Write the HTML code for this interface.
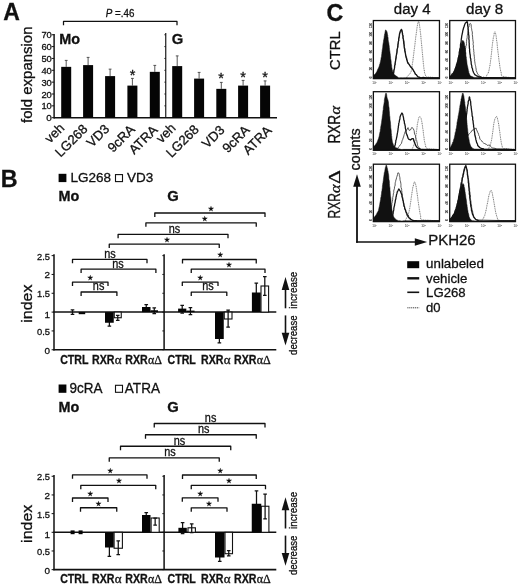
<!DOCTYPE html>
<html lang="en"><head><meta charset="utf-8"><title>Figure</title>
<style>
html,body{margin:0;padding:0;background:#fff}
svg{display:block;font-family:'Liberation Sans', sans-serif;fill:#111}
svg text{stroke:#111;stroke-width:.3px}
</style></head>
<body>
<svg width="520" height="587" viewBox="0 0 520 587">
<rect width="520" height="587" fill="#fff"/>
<text font-size="23" font-weight="bold" x="3.3" y="20.2" >A</text>
<text x="105.8" y="16.7" font-size="10.8" textLength="28.6" lengthAdjust="spacingAndGlyphs"><tspan font-style="italic">P</tspan> =.46</text>
<path d="M63.5 25.299999999999997V21.4H177V25.299999999999997" stroke="#111" stroke-width="1.25" fill="none" stroke-linejoin="round"/>
<line x1="54.1" y1="34" x2="54.1" y2="118.4" stroke="#111" stroke-width="1.45" />
<line x1="53.8" y1="117.7" x2="277" y2="117.7" stroke="#111" stroke-width="1.5" />
<line x1="51.7" y1="117.7" x2="54.1" y2="117.7" stroke="#111" stroke-width="1.0" />
<text font-size="9.9" text-anchor="end" x="51.8" y="121.3" >0</text>
<line x1="51.7" y1="105.85" x2="54.1" y2="105.85" stroke="#111" stroke-width="1.0" />
<text font-size="9.9" text-anchor="end" textLength="10.4" lengthAdjust="spacingAndGlyphs" x="51.8" y="109.44999999999999" >10</text>
<line x1="51.7" y1="94.0" x2="54.1" y2="94.0" stroke="#111" stroke-width="1.0" />
<text font-size="9.9" text-anchor="end" textLength="10.4" lengthAdjust="spacingAndGlyphs" x="51.8" y="97.6" >20</text>
<line x1="51.7" y1="82.15" x2="54.1" y2="82.15" stroke="#111" stroke-width="1.0" />
<text font-size="9.9" text-anchor="end" textLength="10.4" lengthAdjust="spacingAndGlyphs" x="51.8" y="85.75" >30</text>
<line x1="51.7" y1="70.3" x2="54.1" y2="70.3" stroke="#111" stroke-width="1.0" />
<text font-size="9.9" text-anchor="end" textLength="10.4" lengthAdjust="spacingAndGlyphs" x="51.8" y="73.89999999999999" >40</text>
<line x1="51.7" y1="58.45" x2="54.1" y2="58.45" stroke="#111" stroke-width="1.0" />
<text font-size="9.9" text-anchor="end" textLength="10.4" lengthAdjust="spacingAndGlyphs" x="51.8" y="62.050000000000004" >50</text>
<line x1="51.7" y1="46.599999999999994" x2="54.1" y2="46.599999999999994" stroke="#111" stroke-width="1.0" />
<text font-size="9.9" text-anchor="end" textLength="10.4" lengthAdjust="spacingAndGlyphs" x="51.8" y="50.199999999999996" >60</text>
<line x1="51.7" y1="34.75" x2="54.1" y2="34.75" stroke="#111" stroke-width="1.0" />
<text font-size="9.9" text-anchor="end" textLength="10.4" lengthAdjust="spacingAndGlyphs" x="51.8" y="38.35" >70</text>
<line x1="165.75" y1="33" x2="165.75" y2="117.7" stroke="#111" stroke-width="1.15" />
<line x1="164.3" y1="105.85" x2="165.75" y2="105.85" stroke="#111" stroke-width="0.8" />
<line x1="164.3" y1="94.0" x2="165.75" y2="94.0" stroke="#111" stroke-width="0.8" />
<line x1="164.3" y1="82.15" x2="165.75" y2="82.15" stroke="#111" stroke-width="0.8" />
<line x1="164.3" y1="70.3" x2="165.75" y2="70.3" stroke="#111" stroke-width="0.8" />
<line x1="164.3" y1="58.45" x2="165.75" y2="58.45" stroke="#111" stroke-width="0.8" />
<line x1="164.3" y1="46.599999999999994" x2="165.75" y2="46.599999999999994" stroke="#111" stroke-width="0.8" />
<line x1="164.3" y1="34.75" x2="165.75" y2="34.75" stroke="#111" stroke-width="0.8" />
<text font-size="15" textLength="96.5" lengthAdjust="spacingAndGlyphs" transform="translate(32,123) rotate(-90)" >fold expansion</text>
<text font-size="14.8" font-weight="bold" textLength="20.8" lengthAdjust="spacingAndGlyphs" x="59.2" y="44.4" >Mo</text>
<text font-size="14.8" font-weight="bold" x="171.8" y="44.4" >G</text>
<path d="M66.20 60.40V66.85M64.80 60.40H67.60" stroke="#444" stroke-width="0.9" fill="none"/>
<rect x="61.20" y="66.85" width="10.00" height="50.85" fill="#050505"/>
<path d="M88.10 57.40V65.10M86.70 57.40H89.50" stroke="#444" stroke-width="0.9" fill="none"/>
<rect x="83.10" y="65.10" width="10.00" height="52.60" fill="#050505"/>
<path d="M110.10 69.15V76.10M108.70 69.15H111.50" stroke="#444" stroke-width="0.9" fill="none"/>
<rect x="105.10" y="76.10" width="10.00" height="41.60" fill="#050505"/>
<path d="M132.40 78.40V85.60M131.00 78.40H133.80" stroke="#444" stroke-width="0.9" fill="none"/>
<rect x="127.40" y="85.60" width="10.00" height="32.10" fill="#050505"/>
<path d="M154.80 65.40V71.85M153.40 65.40H156.20" stroke="#444" stroke-width="0.9" fill="none"/>
<rect x="149.80" y="71.85" width="10.00" height="45.85" fill="#050505"/>
<path d="M177.20 55.90V66.10M175.80 55.90H178.60" stroke="#444" stroke-width="0.9" fill="none"/>
<rect x="172.20" y="66.10" width="10.00" height="51.60" fill="#050505"/>
<path d="M199.10 72.40V78.60M197.70 72.40H200.50" stroke="#444" stroke-width="0.9" fill="none"/>
<rect x="194.10" y="78.60" width="10.00" height="39.10" fill="#050505"/>
<path d="M221.30 82.40V88.85M219.90 82.40H222.70" stroke="#444" stroke-width="0.9" fill="none"/>
<rect x="216.30" y="88.85" width="10.00" height="28.85" fill="#050505"/>
<path d="M243.10 80.40V85.60M241.70 80.40H244.50" stroke="#444" stroke-width="0.9" fill="none"/>
<rect x="238.10" y="85.60" width="10.00" height="32.10" fill="#050505"/>
<path d="M265.10 80.90V85.60M263.70 80.90H266.50" stroke="#444" stroke-width="0.9" fill="none"/>
<rect x="260.10" y="85.60" width="10.00" height="32.10" fill="#050505"/>
<text font-size="14.5" text-anchor="middle" x="132.5" y="79.7" >*</text>
<text font-size="14.5" text-anchor="middle" x="221" y="83.2" >*</text>
<text font-size="14.5" text-anchor="middle" x="243" y="81.7" >*</text>
<text font-size="14.5" text-anchor="middle" x="265" y="82.2" >*</text>
<text font-size="13.2" text-anchor="end" transform="translate(65.10000000000001,128.70000000000002) rotate(-45)" >veh</text>
<text font-size="13.2" text-anchor="end" transform="translate(88.5,129.8) rotate(-45)" >LG268</text>
<text font-size="13.2" text-anchor="end" transform="translate(110.2,129.8) rotate(-45)" >VD3</text>
<text font-size="13.2" text-anchor="end" transform="translate(135.8,130.3) rotate(-45)" >9cRA</text>
<text font-size="13.2" text-anchor="end" transform="translate(158.4,130.8) rotate(-45)" >ATRA</text>
<text font-size="13.2" text-anchor="end" transform="translate(176.5,128.70000000000002) rotate(-45)" >veh</text>
<text font-size="13.2" text-anchor="end" transform="translate(199.6,130.3) rotate(-45)" >LG268</text>
<text font-size="13.2" text-anchor="end" transform="translate(225.50000000000003,130.8) rotate(-45)" >VD3</text>
<text font-size="13.2" text-anchor="end" transform="translate(250.5,130.8) rotate(-45)" >9cRA</text>
<text font-size="13.2" text-anchor="end" transform="translate(272.5,131.3) rotate(-45)" >ATRA</text>
<text font-size="23.3" font-weight="bold" x="0.8" y="186.6" >B</text>
<rect x="58.60" y="173.80" width="7.80" height="8.30" fill="#050505"/>
<text font-size="13.5" x="70.5" y="182.2" >LG268</text>
<rect x="115.50" y="174.60" width="7.00" height="7.00" fill="#fff" stroke="#111" stroke-width="1.1"/>
<text font-size="13.5" x="126.9" y="182.2" >VD3</text>
<text font-size="14.8" font-weight="bold" textLength="20.8" lengthAdjust="spacingAndGlyphs" x="58.6" y="201.4" >Mo</text>
<text font-size="14.8" font-weight="bold" x="167.3" y="201.4" >G</text>
<line x1="54.0" y1="254.32500000000002" x2="54.0" y2="350.45" stroke="#111" stroke-width="1.5" />
<line x1="53.3" y1="349.75" x2="276.3" y2="349.75" stroke="#111" stroke-width="1.6" />
<line x1="53.3" y1="312.1" x2="276.3" y2="312.1" stroke="#111" stroke-width="1.5" />
<line x1="51.6" y1="349.75" x2="54.0" y2="349.75" stroke="#111" stroke-width="1.0" />
<text font-size="9.9" text-anchor="end" x="50.0" y="353.75" >0</text>
<line x1="51.6" y1="330.925" x2="54.0" y2="330.925" stroke="#111" stroke-width="1.0" />
<text font-size="9.9" text-anchor="end" textLength="13.0" lengthAdjust="spacingAndGlyphs" x="50.0" y="334.925" >0.5</text>
<line x1="51.6" y1="312.1" x2="54.0" y2="312.1" stroke="#111" stroke-width="1.0" />
<text font-size="9.9" text-anchor="end" x="50.0" y="317.70000000000005" >1</text>
<line x1="51.6" y1="293.275" x2="54.0" y2="293.275" stroke="#111" stroke-width="1.0" />
<text font-size="9.9" text-anchor="end" textLength="13.0" lengthAdjust="spacingAndGlyphs" x="50.0" y="297.275" >1.5</text>
<line x1="51.6" y1="274.45" x2="54.0" y2="274.45" stroke="#111" stroke-width="1.0" />
<text font-size="9.9" text-anchor="end" x="50.0" y="278.45" >2</text>
<line x1="51.6" y1="255.625" x2="54.0" y2="255.625" stroke="#111" stroke-width="1.0" />
<text font-size="9.9" text-anchor="end" textLength="13.0" lengthAdjust="spacingAndGlyphs" x="50.0" y="259.625" >2.5</text>
<line x1="164.1" y1="254.32500000000002" x2="164.1" y2="349.75" stroke="#111" stroke-width="1.5" />
<line x1="162.3" y1="349.75" x2="164.1" y2="349.75" stroke="#111" stroke-width="0.9" />
<line x1="162.3" y1="330.925" x2="164.1" y2="330.925" stroke="#111" stroke-width="0.9" />
<line x1="162.3" y1="312.1" x2="164.1" y2="312.1" stroke="#111" stroke-width="0.9" />
<line x1="162.3" y1="293.275" x2="164.1" y2="293.275" stroke="#111" stroke-width="0.9" />
<line x1="162.3" y1="274.45" x2="164.1" y2="274.45" stroke="#111" stroke-width="0.9" />
<line x1="162.3" y1="255.625" x2="164.1" y2="255.625" stroke="#111" stroke-width="0.9" />
<text font-size="15.2" textLength="38.2" lengthAdjust="spacingAndGlyphs" transform="translate(32,322.70000000000005) rotate(-90)" >index</text>
<text font-size="12" font-weight="bold" textLength="28.3" lengthAdjust="spacingAndGlyphs" x="60.2" y="363.55" >CTRL</text>
<text font-size="12" font-weight="bold" textLength="22.5" lengthAdjust="spacingAndGlyphs" x="92" y="363.55" >RXR</text>
<text font-size="12" font-weight="bold" textLength="28.3" lengthAdjust="spacingAndGlyphs" x="167.5" y="363.55" >CTRL</text>
<text font-size="12" font-weight="bold" textLength="22.5" lengthAdjust="spacingAndGlyphs" x="201" y="363.55" >RXR</text>
<text font-size="12" textLength="6.8" lengthAdjust="spacingAndGlyphs" x="114.7" y="363.55" font-family="Liberation Serif, serif">α</text>
<text font-size="12" textLength="6.8" lengthAdjust="spacingAndGlyphs" x="223.7" y="363.55" font-family="Liberation Serif, serif">α</text>
<text font-size="12" font-weight="bold" textLength="22.5" lengthAdjust="spacingAndGlyphs" x="125.2" y="363.55" >RXR</text>
<text font-size="12" textLength="14" lengthAdjust="spacingAndGlyphs" x="147.9" y="363.55" font-family="Liberation Serif, serif">αΔ</text>
<text font-size="12" font-weight="bold" textLength="22.5" lengthAdjust="spacingAndGlyphs" x="234" y="363.55" >RXR</text>
<text font-size="12" textLength="14" lengthAdjust="spacingAndGlyphs" x="256.7" y="363.55" font-family="Liberation Serif, serif">αΔ</text>
<line x1="285.5" y1="308.3" x2="285.5" y2="288.1" stroke="#111" stroke-width="1.6" />
<path d="M285.5 277.1L289.3 290.1H281.7Z" fill="#111"/>
<line x1="285.5" y1="315.40000000000003" x2="285.5" y2="335.1" stroke="#111" stroke-width="1.6" />
<path d="M285.5 345.5L289.3 332.70000000000005H281.7Z" fill="#111"/>
<text font-size="10.4" textLength="37" lengthAdjust="spacingAndGlyphs" transform="translate(297.4,308.70000000000005) rotate(-90)" >increase</text>
<text font-size="10.4" textLength="39.5" lengthAdjust="spacingAndGlyphs" transform="translate(297.4,354.90000000000003) rotate(-90)" >decrease</text>
<path d="M72.50 309.90V314.30M70.70 309.90H74.30M70.70 314.30H74.30" stroke="#111" stroke-width="1.25" fill="none"/>
<rect x="70.50" y="312.00" width="4.00" height="0.10" fill="#050505"/>
<rect x="78.70" y="312.10" width="6.50" height="2.10" fill="#050505"/>
<path d="M109.38 319.00V326.00M107.58 319.00H111.17M107.58 326.00H111.17" stroke="#111" stroke-width="1.25" fill="none"/>
<rect x="105.00" y="312.10" width="8.75" height="10.65" fill="#050505"/>
<rect x="114.25" y="312.10" width="7.00" height="5.65" fill="#fff" stroke="#111" stroke-width="1.1"/>
<path d="M117.75 315.25V320.25M115.95 315.25H119.55M115.95 320.25H119.55" stroke="#111" stroke-width="1.25" fill="none"/>
<path d="M146.25 304.50V309.00M144.45 304.50H148.05M144.45 309.00H148.05" stroke="#111" stroke-width="1.25" fill="none"/>
<rect x="142.00" y="307.00" width="8.50" height="5.10" fill="#050505"/>
<path d="M154.25 307.75V313.50M152.45 307.75H156.05M152.45 313.50H156.05" stroke="#111" stroke-width="1.25" fill="none"/>
<rect x="150.50" y="310.25" width="7.50" height="1.85" fill="#050505"/>
<path d="M182.20 305.25V313.00M180.40 305.25H184.00M180.40 313.00H184.00" stroke="#111" stroke-width="1.25" fill="none"/>
<rect x="178.10" y="308.60" width="8.20" height="3.50" fill="#050505"/>
<path d="M190.43 307.50V314.50M188.62 307.50H192.23M188.62 314.50H192.23" stroke="#111" stroke-width="1.25" fill="none"/>
<rect x="186.30" y="310.60" width="8.25" height="1.50" fill="#050505"/>
<path d="M219.38 336.00V342.75M217.57 336.00H221.18M217.57 342.75H221.18" stroke="#111" stroke-width="1.25" fill="none"/>
<rect x="215.00" y="312.10" width="8.75" height="26.90" fill="#050505"/>
<rect x="224.25" y="312.10" width="7.75" height="6.90" fill="#fff" stroke="#111" stroke-width="1.1"/>
<path d="M228.12 310.00V327.00M226.32 310.00H229.93M226.32 327.00H229.93" stroke="#111" stroke-width="1.25" fill="none"/>
<path d="M256.30 283.00V300.00M254.50 283.00H258.10M254.50 300.00H258.10" stroke="#111" stroke-width="1.25" fill="none"/>
<rect x="251.90" y="292.50" width="8.80" height="19.60" fill="#050505"/>
<rect x="261.00" y="286.00" width="7.60" height="26.10" fill="#fff" stroke="#111" stroke-width="1.1"/>
<path d="M264.80 276.60V295.40M263.00 276.60H266.60M263.00 295.40H266.60" stroke="#111" stroke-width="1.25" fill="none"/>
<path d="M154.8 216.9V213H265V216.9" stroke="#111" stroke-width="1.3" fill="none" stroke-linejoin="round"/>
<text font-size="6.7" text-anchor="middle" x="211" y="210.612" font-family="DejaVu Sans, sans-serif">★</text>
<path d="M145.9 226.8V222.9H256.25V226.8" stroke="#111" stroke-width="1.3" fill="none" stroke-linejoin="round"/>
<text font-size="6.7" text-anchor="middle" x="204.75" y="220.512" font-family="DejaVu Sans, sans-serif">★</text>
<path d="M118.1 238.25V234.35H228V238.25" stroke="#111" stroke-width="1.3" fill="none" stroke-linejoin="round"/>
<text font-size="12.1" text-anchor="middle" textLength="11.5" lengthAdjust="spacingAndGlyphs" x="174.4" y="232.5" >ns</text>
<path d="M109.25 248.1V244.2H219.25V248.1" stroke="#111" stroke-width="1.3" fill="none" stroke-linejoin="round"/>
<text font-size="6.7" text-anchor="middle" x="167" y="241.912" font-family="DejaVu Sans, sans-serif">★</text>
<path d="M72.5 263.34999999999997V259.45H147V263.34999999999997" stroke="#111" stroke-width="1.3" fill="none" stroke-linejoin="round"/>
<text font-size="12.1" text-anchor="middle" textLength="11.5" lengthAdjust="spacingAndGlyphs" x="110" y="257.7" >ns</text>
<path d="M81.1 273.04999999999995V269.15H155.9V273.04999999999995" stroke="#111" stroke-width="1.3" fill="none" stroke-linejoin="round"/>
<text font-size="12.1" text-anchor="middle" textLength="11.5" lengthAdjust="spacingAndGlyphs" x="118" y="267.6" >ns</text>
<path d="M72.5 286.0V282.1H108V286.0" stroke="#111" stroke-width="1.3" fill="none" stroke-linejoin="round"/>
<text font-size="6.7" text-anchor="middle" x="90.25" y="279.712" font-family="DejaVu Sans, sans-serif">★</text>
<path d="M81.1 295.9V292H116.9V295.9" stroke="#111" stroke-width="1.3" fill="none" stroke-linejoin="round"/>
<text font-size="12.1" text-anchor="middle" textLength="11.5" lengthAdjust="spacingAndGlyphs" x="98.6" y="290.1" >ns</text>
<path d="M182.5 263.4V259.5H256.25V263.4" stroke="#111" stroke-width="1.3" fill="none" stroke-linejoin="round"/>
<text font-size="6.7" text-anchor="middle" x="220.25" y="257.312" font-family="DejaVu Sans, sans-serif">★</text>
<path d="M191.25 273.0V269.1H265V273.0" stroke="#111" stroke-width="1.3" fill="none" stroke-linejoin="round"/>
<text font-size="6.7" text-anchor="middle" x="228.9" y="267.012" font-family="DejaVu Sans, sans-serif">★</text>
<path d="M182.3 286.0V282.1H218V286.0" stroke="#111" stroke-width="1.3" fill="none" stroke-linejoin="round"/>
<text font-size="6.7" text-anchor="middle" x="200.25" y="279.712" font-family="DejaVu Sans, sans-serif">★</text>
<path d="M191.25 296.09999999999997V292.2H226.8V296.09999999999997" stroke="#111" stroke-width="1.3" fill="none" stroke-linejoin="round"/>
<text font-size="12.1" text-anchor="middle" textLength="11.5" lengthAdjust="spacingAndGlyphs" x="208" y="290.3" >ns</text>
<rect x="58.60" y="384.50" width="7.80" height="8.30" fill="#050505"/>
<text font-size="14.3" textLength="33" lengthAdjust="spacingAndGlyphs" x="69.4" y="392.9" >9cRA</text>
<rect x="115.50" y="385.30" width="7.00" height="7.00" fill="#fff" stroke="#111" stroke-width="1.1"/>
<text font-size="14.3" textLength="35.2" lengthAdjust="spacingAndGlyphs" x="124.8" y="392.9" >ATRA</text>
<text font-size="14.8" font-weight="bold" textLength="20.8" lengthAdjust="spacingAndGlyphs" x="58.6" y="412.1" >Mo</text>
<text font-size="14.8" font-weight="bold" x="167.3" y="412.1" >G</text>
<line x1="54.0" y1="474.97499999999997" x2="54.0" y2="570.35" stroke="#111" stroke-width="1.5" />
<line x1="53.3" y1="569.65" x2="276.3" y2="569.65" stroke="#111" stroke-width="1.6" />
<line x1="53.3" y1="532.3" x2="276.3" y2="532.3" stroke="#111" stroke-width="1.5" />
<line x1="51.6" y1="569.65" x2="54.0" y2="569.65" stroke="#111" stroke-width="1.0" />
<text font-size="9.9" text-anchor="end" x="50.0" y="573.65" >0</text>
<line x1="51.6" y1="550.975" x2="54.0" y2="550.975" stroke="#111" stroke-width="1.0" />
<text font-size="9.9" text-anchor="end" textLength="13.0" lengthAdjust="spacingAndGlyphs" x="50.0" y="554.975" >0.5</text>
<line x1="51.6" y1="532.3" x2="54.0" y2="532.3" stroke="#111" stroke-width="1.0" />
<text font-size="9.9" text-anchor="end" x="50.0" y="537.9" >1</text>
<line x1="51.6" y1="513.625" x2="54.0" y2="513.625" stroke="#111" stroke-width="1.0" />
<text font-size="9.9" text-anchor="end" textLength="13.0" lengthAdjust="spacingAndGlyphs" x="50.0" y="517.625" >1.5</text>
<line x1="51.6" y1="494.95" x2="54.0" y2="494.95" stroke="#111" stroke-width="1.0" />
<text font-size="9.9" text-anchor="end" x="50.0" y="498.95" >2</text>
<line x1="51.6" y1="476.275" x2="54.0" y2="476.275" stroke="#111" stroke-width="1.0" />
<text font-size="9.9" text-anchor="end" textLength="13.0" lengthAdjust="spacingAndGlyphs" x="50.0" y="480.275" >2.5</text>
<line x1="164.1" y1="474.97499999999997" x2="164.1" y2="569.65" stroke="#111" stroke-width="1.5" />
<line x1="162.3" y1="569.65" x2="164.1" y2="569.65" stroke="#111" stroke-width="0.9" />
<line x1="162.3" y1="550.975" x2="164.1" y2="550.975" stroke="#111" stroke-width="0.9" />
<line x1="162.3" y1="532.3" x2="164.1" y2="532.3" stroke="#111" stroke-width="0.9" />
<line x1="162.3" y1="513.625" x2="164.1" y2="513.625" stroke="#111" stroke-width="0.9" />
<line x1="162.3" y1="494.95" x2="164.1" y2="494.95" stroke="#111" stroke-width="0.9" />
<line x1="162.3" y1="476.275" x2="164.1" y2="476.275" stroke="#111" stroke-width="0.9" />
<text font-size="15.2" textLength="38.2" lengthAdjust="spacingAndGlyphs" transform="translate(32,542.9) rotate(-90)" >index</text>
<text font-size="12" font-weight="bold" textLength="28.3" lengthAdjust="spacingAndGlyphs" x="60.2" y="583.15" >CTRL</text>
<text font-size="12" font-weight="bold" textLength="22.5" lengthAdjust="spacingAndGlyphs" x="92" y="583.15" >RXR</text>
<text font-size="12" font-weight="bold" textLength="28.3" lengthAdjust="spacingAndGlyphs" x="167.5" y="583.15" >CTRL</text>
<text font-size="12" font-weight="bold" textLength="22.5" lengthAdjust="spacingAndGlyphs" x="201" y="583.15" >RXR</text>
<text font-size="12" textLength="6.8" lengthAdjust="spacingAndGlyphs" x="114.7" y="583.15" font-family="Liberation Serif, serif">α</text>
<text font-size="12" textLength="6.8" lengthAdjust="spacingAndGlyphs" x="223.7" y="583.15" font-family="Liberation Serif, serif">α</text>
<text font-size="12" font-weight="bold" textLength="22.5" lengthAdjust="spacingAndGlyphs" x="125.2" y="583.15" >RXR</text>
<text font-size="12" textLength="14" lengthAdjust="spacingAndGlyphs" x="147.9" y="583.15" font-family="Liberation Serif, serif">αΔ</text>
<text font-size="12" font-weight="bold" textLength="22.5" lengthAdjust="spacingAndGlyphs" x="234" y="583.15" >RXR</text>
<text font-size="12" textLength="14" lengthAdjust="spacingAndGlyphs" x="256.7" y="583.15" font-family="Liberation Serif, serif">αΔ</text>
<line x1="285.5" y1="528.5" x2="285.5" y2="508.29999999999995" stroke="#111" stroke-width="1.6" />
<path d="M285.5 497.29999999999995L289.3 510.29999999999995H281.7Z" fill="#111"/>
<line x1="285.5" y1="535.5999999999999" x2="285.5" y2="555.3" stroke="#111" stroke-width="1.6" />
<path d="M285.5 565.6999999999999L289.3 552.9H281.7Z" fill="#111"/>
<text font-size="10.4" textLength="37" lengthAdjust="spacingAndGlyphs" transform="translate(297.4,528.9) rotate(-90)" >increase</text>
<text font-size="10.4" textLength="39.5" lengthAdjust="spacingAndGlyphs" transform="translate(297.4,575.0999999999999) rotate(-90)" >decrease</text>
<rect x="70.60" y="530.40" width="4.00" height="3.80" fill="#050505"/>
<rect x="78.60" y="530.40" width="4.00" height="3.80" fill="#050505"/>
<path d="M109.38 540.00V556.25M107.58 540.00H111.17M107.58 556.25H111.17" stroke="#111" stroke-width="1.25" fill="none"/>
<rect x="105.00" y="532.30" width="8.75" height="15.20" fill="#050505"/>
<rect x="114.10" y="532.30" width="8.30" height="15.95" fill="#fff" stroke="#111" stroke-width="1.1"/>
<path d="M118.25 540.75V554.50M116.45 540.75H120.05M116.45 554.50H120.05" stroke="#111" stroke-width="1.25" fill="none"/>
<path d="M146.25 512.50V517.00M144.45 512.50H148.05M144.45 517.00H148.05" stroke="#111" stroke-width="1.25" fill="none"/>
<rect x="142.00" y="515.00" width="8.50" height="17.30" fill="#050505"/>
<rect x="151.10" y="518.00" width="8.10" height="14.30" fill="#fff" stroke="#111" stroke-width="1.1"/>
<path d="M155.15 518.00V525.00M153.35 518.00H156.95M153.35 525.00H156.95" stroke="#111" stroke-width="1.25" fill="none"/>
<path d="M182.60 522.50V533.50M180.80 522.50H184.40M180.80 533.50H184.40" stroke="#111" stroke-width="1.25" fill="none"/>
<rect x="178.40" y="527.80" width="8.40" height="4.50" fill="#050505"/>
<rect x="188.00" y="527.80" width="7.40" height="4.50" fill="#fff" stroke="#111" stroke-width="1.1"/>
<path d="M191.70 523.75V532.50M189.90 523.75H193.50M189.90 532.50H193.50" stroke="#111" stroke-width="1.25" fill="none"/>
<path d="M219.75 554.00V561.25M217.95 554.00H221.55M217.95 561.25H221.55" stroke="#111" stroke-width="1.25" fill="none"/>
<rect x="215.00" y="532.30" width="9.50" height="25.20" fill="#050505"/>
<rect x="225.00" y="532.30" width="7.50" height="21.40" fill="#fff" stroke="#111" stroke-width="1.1"/>
<path d="M228.75 550.50V555.80M226.95 550.50H230.55M226.95 555.80H230.55" stroke="#111" stroke-width="1.25" fill="none"/>
<path d="M256.50 490.75V510.00M254.70 490.75H258.30M254.70 510.00H258.30" stroke="#111" stroke-width="1.25" fill="none"/>
<rect x="251.75" y="503.75" width="9.50" height="28.55" fill="#050505"/>
<rect x="261.30" y="506.25" width="7.60" height="26.05" fill="#fff" stroke="#111" stroke-width="1.1"/>
<path d="M265.10 494.00V518.80M263.30 494.00H266.90M263.30 518.80H266.90" stroke="#111" stroke-width="1.25" fill="none"/>
<path d="M154.25 427.4V423.5H265V427.4" stroke="#111" stroke-width="1.3" fill="none" stroke-linejoin="round"/>
<text font-size="12.1" text-anchor="middle" textLength="11.5" lengthAdjust="spacingAndGlyphs" x="210.6" y="422.0" >ns</text>
<path d="M145.5 438.65V434.75H256.25V438.65" stroke="#111" stroke-width="1.3" fill="none" stroke-linejoin="round"/>
<text font-size="12.1" text-anchor="middle" textLength="11.5" lengthAdjust="spacingAndGlyphs" x="203.75" y="433.2" >ns</text>
<path d="M120.5 450.15V446.25H230.75V450.15" stroke="#111" stroke-width="1.3" fill="none" stroke-linejoin="round"/>
<text font-size="12.1" text-anchor="middle" textLength="11.5" lengthAdjust="spacingAndGlyphs" x="179.4" y="444.7" >ns</text>
<path d="M109.25 461.7V457.8H219.25V461.7" stroke="#111" stroke-width="1.3" fill="none" stroke-linejoin="round"/>
<text font-size="12.1" text-anchor="middle" textLength="11.5" lengthAdjust="spacingAndGlyphs" x="170" y="456.1" >ns</text>
<path d="M72.5 478.79999999999995V474.9H147V478.79999999999995" stroke="#111" stroke-width="1.3" fill="none" stroke-linejoin="round"/>
<text font-size="6.7" text-anchor="middle" x="110.25" y="472.712" font-family="DejaVu Sans, sans-serif">★</text>
<path d="M80.8 489.2V485.3H155.75V489.2" stroke="#111" stroke-width="1.3" fill="none" stroke-linejoin="round"/>
<text font-size="6.7" text-anchor="middle" x="119" y="483.012" font-family="DejaVu Sans, sans-serif">★</text>
<path d="M72.5 501.9V498H108V501.9" stroke="#111" stroke-width="1.3" fill="none" stroke-linejoin="round"/>
<text font-size="6.7" text-anchor="middle" x="90.25" y="495.712" font-family="DejaVu Sans, sans-serif">★</text>
<path d="M80.5 511.65V507.75H116.75V511.65" stroke="#111" stroke-width="1.3" fill="none" stroke-linejoin="round"/>
<text font-size="6.7" text-anchor="middle" x="98.5" y="505.712" font-family="DejaVu Sans, sans-serif">★</text>
<path d="M182.5 478.9V475.0H256.25V478.9" stroke="#111" stroke-width="1.3" fill="none" stroke-linejoin="round"/>
<text font-size="6.7" text-anchor="middle" x="220.25" y="473.012" font-family="DejaVu Sans, sans-serif">★</text>
<path d="M191.25 489.29999999999995V485.4H265.5V489.29999999999995" stroke="#111" stroke-width="1.3" fill="none" stroke-linejoin="round"/>
<text font-size="6.7" text-anchor="middle" x="229" y="483.412" font-family="DejaVu Sans, sans-serif">★</text>
<path d="M182.3 501.7V497.8H218V501.7" stroke="#111" stroke-width="1.3" fill="none" stroke-linejoin="round"/>
<text font-size="6.7" text-anchor="middle" x="200.25" y="495.712" font-family="DejaVu Sans, sans-serif">★</text>
<path d="M191.25 511.7V507.8H227V511.7" stroke="#111" stroke-width="1.3" fill="none" stroke-linejoin="round"/>
<text font-size="6.7" text-anchor="middle" x="209" y="505.712" font-family="DejaVu Sans, sans-serif">★</text>
<text font-size="23.3" font-weight="bold" x="326.6" y="20.5" >C</text>
<text font-size="15.1" textLength="36.8" lengthAdjust="spacingAndGlyphs" x="393.8" y="13.9" >day 4</text>
<text font-size="15.1" textLength="37.2" lengthAdjust="spacingAndGlyphs" x="466" y="13.9" >day 8</text>
<text font-size="14.6" textLength="38.5" lengthAdjust="spacingAndGlyphs" transform="translate(340,69.9) rotate(-90)" >CTRL</text>
<text font-size="16" textLength="28.6" lengthAdjust="spacingAndGlyphs" transform="translate(340.2,143.6) rotate(-90)" >RXR</text>
<text font-size="15.5" font-style="italic" textLength="8.6" lengthAdjust="spacingAndGlyphs" transform="translate(340.2,114.4) rotate(-90)" font-family="Liberation Serif, serif">α</text>
<text font-size="16" textLength="25.4" lengthAdjust="spacingAndGlyphs" transform="translate(340.2,218.5) rotate(-90)" >RXR</text>
<text font-size="15.5" font-style="italic" textLength="8.6" lengthAdjust="spacingAndGlyphs" transform="translate(340.2,192.9) rotate(-90)" font-family="Liberation Serif, serif">α</text>
<text font-size="16.3" textLength="14" lengthAdjust="spacingAndGlyphs" transform="translate(340.2,184.0) rotate(-90)" font-family="Liberation Serif, serif">Δ</text>
<text font-size="14" textLength="42" lengthAdjust="spacingAndGlyphs" transform="translate(360.4,170.4) rotate(-90)" >counts</text>
<line x1="357" y1="242.8" x2="357" y2="185" stroke="#111" stroke-width="1.8" />
<path d="M357 174.3L360.8 186.8H353.2Z" fill="#111"/>
<line x1="356.1" y1="242.0" x2="416" y2="242.0" stroke="#111" stroke-width="1.7" />
<path d="M427.2 242.0L414.8 245.8V238.2Z" fill="#111"/>
<text font-size="15" textLength="47.4" lengthAdjust="spacingAndGlyphs" x="428.2" y="244.5" >PKH26</text>
<rect x="407.20" y="261.20" width="12.00" height="7.00" fill="#050505"/>
<text font-size="13.6" textLength="57.8" lengthAdjust="spacingAndGlyphs" x="426.1" y="268.2" >unlabeled</text>
<line x1="407.3" y1="278.3" x2="419.2" y2="278.3" stroke="#111" stroke-width="2.4" />
<text font-size="13.6" textLength="41.3" lengthAdjust="spacingAndGlyphs" x="426.1" y="282.6" >vehicle</text>
<line x1="407.3" y1="292.3" x2="419.2" y2="292.3" stroke="#111" stroke-width="1.6" />
<text font-size="13.6" textLength="39.5" lengthAdjust="spacingAndGlyphs" x="426.1" y="297" >LG268</text>
<line x1="407.3" y1="307.8" x2="419.2" y2="307.8" stroke="#444" stroke-width="1.0" stroke-dasharray="1.2 0.7"/>
<text font-size="13.6" textLength="14.5" lengthAdjust="spacingAndGlyphs" x="426.1" y="312" >d0</text>
<path d="M406.83 77.90L406.77 76.94L407.48 76.25L408.49 75.16L409.24 74.55L410.18 73.33L411.11 71.56L411.29 70.70L411.46 69.57L411.66 68.74L411.85 67.47L412.09 65.90L412.32 64.75L412.43 63.11L412.76 61.85L412.87 61.03L413.00 60.02L413.08 58.90L413.23 57.85L413.46 56.39L413.45 55.29L413.75 54.22L413.82 53.00L413.94 51.87L414.05 50.79L414.23 49.77L414.39 48.65L414.57 47.55L414.67 46.07L414.85 45.22L415.01 43.89L415.11 42.58L415.28 41.56L415.31 40.20L415.57 39.44L415.55 38.27L415.75 36.95L415.86 36.17L416.10 34.91L416.24 33.53L416.43 32.32L416.64 31.33L416.73 30.14L416.85 28.65L417.07 27.58L417.15 26.75L417.39 25.76L417.58 24.35L417.93 22.91L418.33 21.65L418.53 21.38L418.86 21.91L419.13 23.09L419.49 24.72L419.70 26.82L419.78 27.53L420.06 28.57L420.10 29.37L420.20 30.67L420.25 31.82L420.51 32.79L420.64 34.22L420.79 35.51L420.94 37.07L420.95 38.27L421.18 39.60L421.19 40.45L421.36 41.49L421.42 42.64L421.53 43.93L421.63 45.06L421.83 46.16L421.90 47.69L421.96 48.73L422.16 49.98L422.15 51.28L422.36 52.34L422.39 53.60L422.59 54.76L422.70 55.71L422.69 56.91L422.93 58.22L422.93 59.43L423.12 60.77L423.30 62.29L423.30 63.28L423.54 64.59L423.66 65.57L423.64 66.59L423.89 67.56L423.91 68.53L424.04 69.36L424.43 71.10L424.50 72.71L424.96 73.71L425.22 74.59L425.63 75.81L427.29 77.06L428.04 77.08L428.96 77.14L430.11 77.15L431.46 77.35L432.85 77.34L434.23 77.68L435.57 77.84L436.81 77.77L437.74 77.90L438.70 77.77L439.48 77.91" fill="none" stroke="#555" stroke-width="0.8" stroke-dasharray="1.1 0.7"/>
<path d="M390.10 77.59L391.29 77.85L392.82 76.11L392.95 75.76L393.31 74.66L393.48 72.95L393.79 72.20L393.84 70.80L394.40 69.40L394.59 67.28L394.68 67.06L394.60 65.50L394.89 64.67L395.14 63.54L395.49 62.01L395.35 61.01L395.57 59.83L396.14 59.41L395.92 57.97L396.20 56.68L396.39 55.86L396.67 54.47L396.66 53.29L396.80 52.35L397.23 51.04L397.11 49.71L397.41 48.94L397.75 47.60L397.93 46.69L397.93 45.35L398.15 44.39L398.31 43.08L398.52 41.35L398.75 40.44L398.73 38.91L399.08 38.10L399.49 36.52L399.65 35.89L399.53 34.73L399.90 33.30L400.53 32.43L400.94 31.57L401.75 30.47L401.73 31.20L401.98 31.90L402.63 33.18L402.63 34.74L403.17 35.86L402.97 37.57L403.20 38.76L403.63 40.04L403.96 41.20L404.12 42.21L404.25 43.63L404.38 44.36L404.57 46.26L404.43 46.92L404.83 48.60L404.86 49.24L405.04 50.82L405.44 51.75L405.43 52.80L405.59 53.76L405.77 55.45L406.47 56.75L406.65 57.73L406.93 59.37L407.24 60.21L407.58 61.54L408.21 62.16L408.32 63.66L409.19 64.39L409.71 65.75L410.39 66.43L411.21 67.80L412.11 68.60L413.15 70.37L413.76 71.25L414.47 72.49L415.13 73.06L415.57 73.82L416.67 75.36L417.55 76.30L418.83 77.31L419.72 77.87L439.45 77.90" fill="none" stroke="#3a3a3a" stroke-width="0.85" stroke-linejoin="round"/>
<path d="M390.10 77.59L391.24 77.66L392.59 76.82L393.00 75.87L393.14 75.02L393.51 73.67L393.69 72.83L393.81 71.01L393.95 70.02L394.34 68.88L394.59 67.36L394.54 66.33L394.73 65.57L395.15 64.61L395.12 63.46L395.33 62.01L395.66 60.61L395.62 59.95L395.88 58.42L396.15 57.54L396.11 56.17L396.43 55.12L396.52 54.01L396.95 52.69L396.97 51.31L397.04 50.49L397.15 49.45L397.60 47.70L397.78 46.72L397.89 45.78L397.90 44.47L398.20 43.27L398.24 41.94L398.65 40.60L398.68 38.97L398.83 37.95L399.07 37.08L399.17 35.74L399.35 35.19L399.62 33.32L400.16 31.58L400.62 30.66L401.41 29.39L401.84 30.12L402.19 31.53L402.41 33.20L402.49 34.59L402.88 35.56L403.02 36.62L403.01 37.93L403.41 39.10L403.48 40.78L403.72 41.87L403.71 43.03L403.95 44.48L404.05 45.78L404.14 46.65L404.31 47.81L404.73 49.48L404.70 50.30L404.95 51.81L405.26 52.84L405.43 53.74L405.60 55.02L405.88 56.43L406.01 57.28L406.45 58.11L406.69 59.63L406.98 60.11L407.37 61.79L407.93 63.17L408.57 63.73L409.40 64.90L410.18 66.04L410.84 67.07L411.93 67.97L412.75 69.08L413.41 70.25L413.96 71.38L414.69 72.48L415.22 73.90L416.30 74.70L417.30 76.17L417.89 76.80L419.28 77.13L420.42 77.84L421.67 77.84L423.20 77.34L424.50 77.66L425.38 77.74L439.45 77.90" fill="none" stroke="#151515" stroke-width="1.3" stroke-linejoin="round"/>
<path d="M373.37 75.58L374.29 74.71L375.45 73.79L376.18 72.62L376.88 71.57L377.45 70.00L377.89 69.10L378.36 68.15L378.94 66.98L379.30 65.77L379.67 64.36L380.05 63.38L380.16 62.69L380.53 61.46L380.67 60.53L380.96 59.27L381.04 58.05L381.47 56.67L381.54 55.74L381.63 54.68L381.83 53.57L381.89 52.39L382.07 51.38L382.20 49.93L382.45 48.90L382.66 47.51L382.74 46.49L382.80 45.63L383.00 44.10L383.23 42.94L383.44 41.82L383.49 40.45L383.82 39.35L384.01 38.27L384.22 37.05L384.21 35.96L384.52 35.15L384.56 34.00L384.79 33.66L385.19 31.25L385.41 30.21L385.83 29.85L386.24 30.62L386.91 31.60L387.37 33.41L387.53 34.59L387.75 35.20L387.77 36.67L388.11 37.71L388.15 39.53L388.33 40.90L388.51 41.99L388.80 42.75L388.90 44.11L389.08 45.14L389.26 46.20L389.29 47.32L389.54 48.65L389.57 49.72L389.84 51.15L389.99 52.25L390.09 53.33L390.29 54.37L390.37 55.90L390.57 56.77L390.60 58.37L390.85 59.61L391.05 60.62L391.20 61.95L391.19 62.92L391.27 64.03L391.62 64.91L391.66 65.85L391.66 66.96L391.99 68.29L392.23 69.81L392.59 70.43L392.76 71.70L393.04 72.27L393.78 73.90L394.81 75.06L395.54 75.45L396.33 76.12L397.48 76.77L398.34 77.66L399.66 77.83L401.10 77.65L402.48 77.78L403.51 77.66L439.45 77.90V78.60H373.37Z" fill="#111" stroke="#111" stroke-width="0.5"/>
<rect x="373.37" y="20.54" width="66.09" height="58.06" fill="none" stroke="#111" stroke-width="1.3"/>
<text transform="translate(372.07,77.30) rotate(-90)" font-size="3" text-anchor="middle" fill="#222" style="stroke:#222;stroke-width:.12px">0</text>
<text transform="translate(372.07,68.70) rotate(-90)" font-size="3" text-anchor="middle" fill="#222" style="stroke:#222;stroke-width:.12px">20</text>
<text transform="translate(372.07,60.10) rotate(-90)" font-size="3" text-anchor="middle" fill="#222" style="stroke:#222;stroke-width:.12px">40</text>
<text transform="translate(372.07,51.50) rotate(-90)" font-size="3" text-anchor="middle" fill="#222" style="stroke:#222;stroke-width:.12px">60</text>
<text transform="translate(372.07,42.90) rotate(-90)" font-size="3" text-anchor="middle" fill="#222" style="stroke:#222;stroke-width:.12px">80</text>
<text transform="translate(372.07,34.30) rotate(-90)" font-size="3" text-anchor="middle" fill="#222" style="stroke:#222;stroke-width:.12px">100</text>
<text transform="translate(372.07,25.70) rotate(-90)" font-size="3" text-anchor="middle" fill="#222" style="stroke:#222;stroke-width:.12px">120</text>
<text x="372.17" y="83.70" font-size="3.1" fill="#222" style="stroke:none">10<tspan dy="-1.1" font-size="2.2">0</tspan></text>
<text x="388.49" y="83.70" font-size="3.1" fill="#222" style="stroke:none">10<tspan dy="-1.1" font-size="2.2">1</tspan></text>
<text x="404.81" y="83.70" font-size="3.1" fill="#222" style="stroke:none">10<tspan dy="-1.1" font-size="2.2">2</tspan></text>
<text x="421.13" y="83.70" font-size="3.1" fill="#222" style="stroke:none">10<tspan dy="-1.1" font-size="2.2">3</tspan></text>
<text x="437.45" y="83.70" font-size="3.1" fill="#222" style="stroke:none">10<tspan dy="-1.1" font-size="2.2">4</tspan></text>
<path d="M486.20 77.90L486.26 76.57L486.61 75.64L487.26 74.44L488.02 73.41L488.61 71.79L488.83 70.93L489.13 69.72L489.30 68.76L489.48 67.58L489.83 66.25L490.03 64.99L490.16 63.48L490.47 62.43L490.49 61.23L490.59 60.11L490.87 59.15L490.98 58.03L491.06 56.78L491.17 55.35L491.39 54.33L491.52 52.97L491.61 51.79L491.81 50.73L491.82 49.45L491.95 47.82L492.21 46.62L492.32 45.51L492.37 44.33L492.57 43.04L492.72 42.07L492.95 40.87L493.03 39.47L493.29 38.09L493.44 37.19L493.75 36.22L493.99 35.24L494.04 34.12L494.46 32.36L494.91 31.77L495.19 32.32L495.50 33.25L495.99 35.22L496.00 35.81L496.24 36.65L496.26 37.90L496.49 38.87L496.54 40.07L496.84 41.40L497.04 42.78L497.19 43.72L497.18 44.94L497.37 46.18L497.42 47.42L497.57 48.50L497.73 49.90L497.90 50.89L497.96 52.17L498.21 53.47L498.40 54.71L498.40 55.59L498.64 56.96L498.74 58.19L498.89 59.17L498.96 60.26L499.21 61.78L499.41 62.75L499.51 64.04L499.69 64.97L499.76 65.95L499.86 66.76L500.22 68.64L500.45 69.81L500.67 71.09L501.03 72.21L501.35 73.10L501.35 74.61L501.54 75.75L503.00 76.59L503.74 76.44L504.74 76.83L505.91 76.90L507.27 77.31L508.53 77.36L509.99 77.43L511.47 77.72L512.70 77.52L513.90 77.61L514.75 77.96L515.45 77.80" fill="none" stroke="#555" stroke-width="0.8" stroke-dasharray="1.1 0.7"/>
<path d="M459.77 77.59L460.43 77.49L460.81 76.32L461.52 75.00L462.17 74.01L462.28 72.55L462.53 71.53L462.87 71.15L463.20 69.99L463.38 68.30L463.32 67.99L463.41 66.15L463.77 64.92L463.97 63.47L464.01 63.04L464.13 61.76L464.31 60.64L464.68 59.21L464.58 57.53L464.99 56.47L464.87 55.86L465.31 53.96L465.48 53.19L465.34 51.60L465.47 51.20L465.54 49.24L465.60 48.08L465.82 47.66L465.81 45.91L466.32 45.58L466.50 43.58L466.38 42.92L466.59 41.43L466.67 39.58L466.83 39.03L467.18 37.71L467.18 36.56L467.32 35.48L467.64 34.14L467.68 33.81L468.02 31.58L468.31 30.74L468.17 28.89L468.41 27.50L468.98 26.75L469.14 25.55L469.35 24.10L470.27 23.49L470.61 23.58L471.03 24.42L471.33 26.68L471.30 27.62L471.52 28.41L471.69 29.19L471.83 30.48L472.26 31.89L472.36 32.99L472.26 34.40L472.40 34.99L472.65 36.98L472.67 37.83L472.73 39.12L472.90 39.75L473.02 41.22L473.32 42.06L473.16 43.33L473.08 44.36L473.52 45.89L473.26 47.17L473.49 48.48L473.57 48.97L473.74 50.71L473.78 51.80L474.00 52.39L473.90 53.50L474.08 54.78L474.32 56.58L474.42 57.21L474.39 58.65L474.70 59.64L474.59 60.94L474.82 61.78L475.07 63.63L475.20 64.47L475.48 65.52L475.74 66.63L475.84 67.66L476.15 69.08L476.20 70.62L476.40 71.00L476.98 72.33L477.25 73.17L478.05 74.35L479.07 75.51L479.74 76.49L481.08 77.04L482.60 77.51L483.89 77.13L485.08 77.76L515.48 77.90" fill="none" stroke="#3a3a3a" stroke-width="0.85" stroke-linejoin="round"/>
<path d="M449.73 76.92L450.24 76.29L451.40 75.81L452.09 74.07L452.87 73.47L453.66 72.76L454.10 71.38L454.78 70.50L455.08 69.10L455.46 68.15L455.84 67.16L456.39 65.68L456.61 64.19L457.05 63.57L457.37 62.09L457.80 61.25L457.92 59.80L458.10 59.14L458.30 57.70L458.72 56.37L459.00 55.52L459.26 54.14L459.24 52.39L459.54 51.29L459.66 50.41L459.87 49.14L460.32 47.44L460.50 46.42L460.44 45.04L460.58 43.98L460.90 42.87L461.21 41.23L461.22 40.31L461.30 39.01L461.50 38.11L461.69 36.49L461.82 35.55L462.12 34.29L462.35 33.22L462.60 32.21L462.70 31.09L463.06 29.79L463.42 28.77L463.65 27.36L464.05 26.98L464.37 25.49L464.73 24.57L465.30 23.13L465.74 22.89L466.91 21.72L467.20 21.73L467.48 22.77L467.67 24.24L467.66 25.91L468.03 26.79L468.03 28.06L468.10 28.89L468.26 30.29L468.24 31.02L468.55 32.64L468.51 34.22L468.83 35.37L468.97 37.00L468.97 37.66L468.79 39.03L469.11 39.96L469.10 41.31L469.09 42.62L469.28 43.65L469.20 45.01L469.35 46.37L469.37 47.35L469.46 48.54L469.67 49.47L469.57 50.81L469.70 51.83L469.81 52.90L470.07 54.76L470.31 55.68L470.27 56.51L470.36 57.78L470.72 58.69L470.86 59.94L470.82 60.76L471.14 61.65L471.20 63.19L471.26 64.18L471.73 65.68L471.86 66.79L471.88 67.67L472.41 68.37L472.70 70.17L473.10 71.30L473.53 72.47L474.12 73.48L474.78 74.67L475.80 75.32L476.77 75.94L477.91 76.33L479.03 76.98L480.13 76.87L481.40 77.45L482.76 77.64L484.04 77.85L484.99 77.75L515.48 77.90" fill="none" stroke="#151515" stroke-width="1.3" stroke-linejoin="round"/>
<path d="M449.73 76.92L450.35 76.11L451.33 75.59L452.35 74.26L452.79 73.76L453.59 72.52L454.22 71.26L454.76 70.32L455.22 69.01L455.51 68.11L456.10 66.68L456.26 65.42L456.83 64.32L457.04 63.60L457.35 62.24L457.63 61.09L457.79 60.35L458.04 58.82L458.44 57.60L458.75 56.54L458.93 55.63L459.15 54.52L459.35 53.27L459.48 52.12L459.86 50.86L459.94 49.73L460.13 48.58L460.44 47.70L460.63 46.70L460.85 44.83L461.22 43.57L461.54 42.55L461.84 41.84L462.82 40.23L463.96 41.75L464.14 42.39L464.49 43.59L464.54 44.95L464.90 46.15L465.11 47.46L465.39 48.48L465.38 50.01L465.46 50.96L465.70 52.10L465.96 53.48L465.89 54.82L466.04 56.22L466.40 57.56L466.35 58.61L466.58 59.76L466.75 60.94L466.88 62.34L467.04 63.72L467.20 64.88L467.40 65.55L467.70 66.80L467.87 67.73L468.13 69.10L468.41 70.60L468.76 71.45L468.86 72.83L469.51 74.02L469.93 75.21L470.62 76.07L472.03 76.50L473.60 77.27L474.77 77.41L515.48 77.90V78.60H449.73Z" fill="#111" stroke="#111" stroke-width="0.5"/>
<rect x="449.73" y="20.54" width="65.75" height="58.06" fill="none" stroke="#111" stroke-width="1.3"/>
<text transform="translate(448.43,77.30) rotate(-90)" font-size="3" text-anchor="middle" fill="#222" style="stroke:#222;stroke-width:.12px">0</text>
<text transform="translate(448.43,68.70) rotate(-90)" font-size="3" text-anchor="middle" fill="#222" style="stroke:#222;stroke-width:.12px">20</text>
<text transform="translate(448.43,60.10) rotate(-90)" font-size="3" text-anchor="middle" fill="#222" style="stroke:#222;stroke-width:.12px">40</text>
<text transform="translate(448.43,51.50) rotate(-90)" font-size="3" text-anchor="middle" fill="#222" style="stroke:#222;stroke-width:.12px">60</text>
<text transform="translate(448.43,42.90) rotate(-90)" font-size="3" text-anchor="middle" fill="#222" style="stroke:#222;stroke-width:.12px">80</text>
<text transform="translate(448.43,34.30) rotate(-90)" font-size="3" text-anchor="middle" fill="#222" style="stroke:#222;stroke-width:.12px">100</text>
<text transform="translate(448.43,25.70) rotate(-90)" font-size="3" text-anchor="middle" fill="#222" style="stroke:#222;stroke-width:.12px">120</text>
<text x="448.53" y="83.70" font-size="3.1" fill="#222" style="stroke:none">10<tspan dy="-1.1" font-size="2.2">0</tspan></text>
<text x="464.77" y="83.70" font-size="3.1" fill="#222" style="stroke:none">10<tspan dy="-1.1" font-size="2.2">1</tspan></text>
<text x="481.01" y="83.70" font-size="3.1" fill="#222" style="stroke:none">10<tspan dy="-1.1" font-size="2.2">2</tspan></text>
<text x="497.24" y="83.70" font-size="3.1" fill="#222" style="stroke:none">10<tspan dy="-1.1" font-size="2.2">3</tspan></text>
<text x="513.48" y="83.70" font-size="3.1" fill="#222" style="stroke:none">10<tspan dy="-1.1" font-size="2.2">4</tspan></text>
<path d="M412.35 149.56L412.30 148.36L412.82 147.53L413.52 146.15L413.96 144.68L414.30 143.55L414.74 142.57L414.99 141.12L415.28 139.59L415.54 138.61L415.78 137.62L415.84 136.37L415.95 135.24L416.25 133.83L416.41 132.52L416.47 131.25L416.62 130.29L416.85 129.18L416.89 128.00L417.11 126.66L417.26 125.53L417.35 124.40L417.58 123.50L417.79 122.37L418.08 120.99L418.34 119.69L418.52 118.47L418.95 117.32L419.90 116.48L420.41 117.10L421.13 118.45L421.21 119.22L421.58 120.31L421.71 121.47L422.07 122.67L422.12 124.34L422.33 125.08L422.61 126.10L422.58 127.47L422.76 128.37L423.05 129.55L423.19 130.76L423.21 131.85L423.40 133.05L423.55 134.39L423.69 135.87L423.98 137.14L424.12 138.11L424.17 139.35L424.33 140.75L424.74 142.21L424.95 143.21L425.22 144.36L425.65 145.48L425.67 147.42L427.18 148.59L427.96 148.66L428.90 148.91L430.12 148.82L431.45 149.05L432.72 148.97L434.15 149.03L435.54 149.24L436.65 149.31L437.75 149.37L438.77 149.47L439.42 149.48" fill="none" stroke="#555" stroke-width="0.8" stroke-dasharray="1.1 0.7"/>
<path d="M395.12 149.26L396.42 148.99L397.93 148.16L398.95 146.48L399.65 145.89L400.64 144.38L401.48 143.38L401.84 141.86L402.25 140.27L402.75 139.34L403.14 138.00L403.55 136.95L403.84 135.87L404.23 134.50L404.67 133.29L405.28 131.35L405.98 130.92L406.65 130.02L408.05 127.61L408.46 128.86L409.28 130.48L410.45 129.95L411.15 128.70L411.68 127.55L412.49 127.86L413.07 128.33L414.00 130.32L414.25 131.20L414.38 133.08L414.65 134.22L415.39 135.28L415.55 136.82L415.78 137.93L416.08 138.35L416.12 139.89L416.74 140.64L416.90 141.82L417.34 143.35L417.52 144.72L417.71 145.78L418.78 147.47L419.44 148.01L420.67 149.28L421.86 149.16L439.45 149.56" fill="none" stroke="#3a3a3a" stroke-width="0.85" stroke-linejoin="round"/>
<path d="M391.77 149.26L392.95 148.89L394.22 147.47L394.71 146.98L394.82 145.51L395.28 144.87L395.39 143.43L395.78 142.18L395.76 140.83L396.06 139.98L396.32 138.97L396.68 137.32L396.94 136.10L397.16 134.70L397.33 133.54L397.63 132.13L397.81 130.99L398.02 129.61L398.08 128.65L398.35 127.29L398.38 126.08L398.71 125.05L398.74 123.42L399.04 122.63L399.35 121.08L399.51 119.97L399.91 118.93L400.03 117.03L400.60 115.39L401.07 114.50L401.90 113.04L402.38 113.57L402.86 114.76L403.09 115.99L403.38 117.11L403.59 118.14L403.63 119.06L403.91 120.29L404.38 121.84L404.39 123.14L404.75 123.92L405.02 125.33L405.33 126.59L405.30 127.96L405.73 129.60L405.85 130.27L406.06 131.91L406.19 133.22L406.72 134.31L406.94 135.07L407.33 135.71L407.63 136.87L408.15 138.34L408.69 139.06L410.47 139.99L411.94 138.68L413.31 138.56L413.54 139.78L414.04 141.36L414.66 142.73L415.15 143.88L415.45 144.89L416.12 146.13L416.80 147.13L417.91 148.06L419.08 148.37L420.23 149.04L420.94 149.31L439.45 149.56" fill="none" stroke="#151515" stroke-width="1.3" stroke-linejoin="round"/>
<path d="M373.37 146.75L374.01 146.32L375.04 145.16L375.97 144.10L376.31 143.24L377.00 142.42L377.51 141.12L377.86 140.16L378.31 139.01L378.69 138.13L378.89 136.92L379.26 136.09L379.35 134.98L379.59 133.90L379.83 132.52L380.18 131.55L380.29 130.29L380.32 129.50L380.65 128.39L380.67 127.32L380.92 126.01L381.11 124.91L381.29 123.91L381.54 122.46L381.59 121.77L381.77 120.52L381.98 119.09L382.12 118.26L382.22 116.98L382.38 115.77L382.50 114.74L382.74 113.91L382.77 112.78L382.89 111.56L382.98 110.62L383.28 109.44L383.26 108.32L383.39 107.04L383.65 105.62L383.78 104.89L383.98 103.47L384.18 102.39L384.35 101.36L384.30 100.64L384.54 98.74L384.97 97.05L385.17 95.88L385.44 94.29L385.73 93.54L385.93 92.94L386.22 93.20L386.73 94.84L386.81 96.19L387.18 98.04L387.49 98.89L387.92 99.98L388.27 101.34L388.52 103.07L388.48 103.99L388.66 104.74L388.70 106.09L388.95 107.05L389.14 108.21L389.17 109.39L389.27 111.05L389.43 111.94L389.47 113.30L389.59 114.55L389.64 115.68L389.89 116.81L389.93 117.62L389.99 119.12L390.07 120.12L390.38 121.82L390.52 123.16L390.54 124.27L390.69 125.29L390.73 126.27L390.76 127.67L390.96 128.91L391.21 130.45L391.27 131.91L391.25 133.16L391.55 134.05L391.46 135.44L391.76 136.46L391.75 137.26L391.91 138.82L392.21 140.39L392.35 141.51L392.57 142.41L392.87 143.23L393.40 144.68L393.74 145.68L394.39 146.75L395.15 147.49L396.26 147.73L397.44 148.41L398.35 148.80L399.65 149.05L401.27 149.48L402.59 149.42L403.56 149.37L439.45 149.56V150.26H373.37Z" fill="#111" stroke="#111" stroke-width="0.5"/>
<rect x="373.37" y="91.70" width="66.09" height="58.56" fill="none" stroke="#111" stroke-width="1.3"/>
<text transform="translate(372.07,148.96) rotate(-90)" font-size="3" text-anchor="middle" fill="#222" style="stroke:#222;stroke-width:.12px">0</text>
<text transform="translate(372.07,140.36) rotate(-90)" font-size="3" text-anchor="middle" fill="#222" style="stroke:#222;stroke-width:.12px">20</text>
<text transform="translate(372.07,131.76) rotate(-90)" font-size="3" text-anchor="middle" fill="#222" style="stroke:#222;stroke-width:.12px">40</text>
<text transform="translate(372.07,123.16) rotate(-90)" font-size="3" text-anchor="middle" fill="#222" style="stroke:#222;stroke-width:.12px">60</text>
<text transform="translate(372.07,114.56) rotate(-90)" font-size="3" text-anchor="middle" fill="#222" style="stroke:#222;stroke-width:.12px">80</text>
<text transform="translate(372.07,105.96) rotate(-90)" font-size="3" text-anchor="middle" fill="#222" style="stroke:#222;stroke-width:.12px">100</text>
<text transform="translate(372.07,97.36) rotate(-90)" font-size="3" text-anchor="middle" fill="#222" style="stroke:#222;stroke-width:.12px">120</text>
<text x="372.17" y="155.36" font-size="3.1" fill="#222" style="stroke:none">10<tspan dy="-1.1" font-size="2.2">0</tspan></text>
<text x="388.49" y="155.36" font-size="3.1" fill="#222" style="stroke:none">10<tspan dy="-1.1" font-size="2.2">1</tspan></text>
<text x="404.81" y="155.36" font-size="3.1" fill="#222" style="stroke:none">10<tspan dy="-1.1" font-size="2.2">2</tspan></text>
<text x="421.13" y="155.36" font-size="3.1" fill="#222" style="stroke:none">10<tspan dy="-1.1" font-size="2.2">3</tspan></text>
<text x="437.45" y="155.36" font-size="3.1" fill="#222" style="stroke:none">10<tspan dy="-1.1" font-size="2.2">4</tspan></text>
<path d="M488.71 149.56L488.69 148.32L489.09 147.48L489.73 146.32L490.35 144.77L490.69 143.80L490.89 142.58L491.26 141.40L491.51 140.44L491.70 139.07L491.92 138.00L492.08 136.78L492.28 135.35L492.41 134.27L492.56 133.05L492.81 131.85L492.96 130.38L493.10 129.34L493.32 127.81L493.33 126.90L493.54 125.53L493.75 124.20L493.89 123.15L494.16 122.17L494.51 120.28L494.88 119.07L495.29 118.12L496.49 116.48L497.00 116.84L497.36 117.97L497.69 119.78L498.02 120.80L498.15 121.63L498.43 123.03L498.73 124.30L498.97 125.87L499.02 126.94L499.13 127.92L499.30 128.83L499.50 130.17L499.67 131.28L499.88 132.61L499.87 133.43L500.18 134.67L500.18 135.78L500.47 137.01L500.58 138.42L500.74 139.59L501.03 140.76L501.13 141.71L501.22 142.62L501.63 144.25L501.91 145.52L502.21 146.50L502.35 147.40L503.55 148.62L504.33 148.70L505.51 148.55L506.79 148.67L508.24 148.92L509.71 149.28L511.01 149.19L512.39 149.43L513.62 149.25L514.65 149.64L515.43 149.49" fill="none" stroke="#555" stroke-width="0.8" stroke-dasharray="1.1 0.7"/>
<path d="M464.79 149.26L464.90 148.63L465.06 148.08L465.24 146.58L465.71 145.15L465.66 144.39L465.99 143.11L466.49 141.32L466.53 139.81L467.03 138.96L467.02 137.72L467.17 137.55L467.73 135.57L468.46 134.85L468.97 134.11L469.53 133.60L470.59 132.53L471.03 132.06L472.05 130.29L473.21 129.98L474.86 128.49L476.21 128.20L476.50 129.89L477.30 131.08L477.40 132.16L477.99 132.51L478.64 134.59L478.69 135.28L479.47 136.41L479.63 138.05L480.15 139.33L481.02 140.37L481.68 140.75L482.44 141.97L483.58 143.09L484.78 143.63L486.33 144.39L487.20 145.34L488.50 145.19L489.48 144.93L490.46 146.32L491.46 147.29L492.64 147.98L493.92 148.20L495.08 148.33L496.53 148.89L497.43 149.00L515.48 149.56" fill="none" stroke="#3a3a3a" stroke-width="0.85" stroke-linejoin="round"/>
<path d="M458.10 149.26L458.27 148.53L458.79 147.63L458.98 147.32L459.45 145.95L460.05 144.82L460.22 143.65L460.83 143.07L461.28 141.46L461.98 140.08L462.21 139.25L462.72 137.91L463.21 136.73L463.89 135.43L464.08 134.39L464.58 132.90L464.70 132.11L465.09 130.73L465.38 129.43L465.65 128.22L465.54 126.76L465.60 125.61L465.94 124.53L465.83 123.72L466.05 122.42L465.84 120.99L465.98 119.85L465.98 118.77L466.04 118.15L466.32 116.53L466.42 115.36L466.64 113.75L466.84 112.93L466.81 112.20L467.10 110.73L466.99 109.76L467.28 108.68L467.35 107.43L467.61 106.20L467.90 104.55L468.21 103.40L468.14 102.13L468.31 101.19L468.97 99.63L469.21 97.53L469.38 96.85L469.71 97.56L469.86 98.69L470.28 100.52L470.58 101.33L470.66 102.38L470.77 103.90L470.80 105.15L471.14 106.31L471.23 108.16L471.40 108.79L471.52 110.13L471.71 111.16L471.83 112.23L472.04 113.68L472.04 114.86L472.27 116.31L472.64 116.88L472.70 118.18L472.64 119.72L473.07 120.82L473.12 122.12L473.24 123.07L473.42 124.35L473.63 125.09L473.55 126.37L473.85 127.49L474.11 129.10L474.21 130.14L474.38 131.12L474.59 132.26L474.79 133.73L474.75 134.49L475.11 136.03L475.40 137.00L475.73 138.37L475.85 139.67L476.20 140.52L476.47 141.84L476.78 142.95L477.48 144.00L477.69 145.49L478.47 146.25L479.29 147.12L480.12 147.77L481.32 148.40L482.91 148.70L483.96 149.10L515.48 149.56" fill="none" stroke="#151515" stroke-width="1.3" stroke-linejoin="round"/>
<path d="M449.73 148.25L450.21 147.48L450.94 146.38L451.81 144.59L452.23 143.97L452.55 142.49L453.18 141.69L453.42 140.34L454.02 138.77L454.25 137.81L454.50 136.91L454.66 135.68L454.93 134.89L455.07 133.45L455.25 132.41L455.71 131.48L455.89 130.42L455.91 129.14L456.33 128.24L456.55 127.07L456.68 125.87L456.95 124.52L456.93 123.26L457.14 122.04L457.47 120.96L457.57 119.78L457.78 118.88L458.03 117.97L458.08 116.50L458.27 115.71L458.59 114.44L458.83 112.99L459.03 112.03L459.15 110.93L459.38 109.71L459.45 108.49L459.76 107.40L459.81 106.18L460.10 105.05L460.29 104.20L460.48 103.16L460.56 102.26L460.99 100.61L461.00 99.11L461.41 98.37L461.62 97.17L461.79 96.03L462.15 94.92L462.38 93.46L462.87 92.95L463.08 93.26L463.51 94.86L463.88 96.17L464.05 97.39L464.16 98.49L464.36 99.46L464.46 101.07L464.85 102.18L464.80 103.29L464.97 104.53L465.09 105.53L465.30 106.53L465.50 107.72L465.54 109.00L465.64 109.94L465.91 111.40L465.92 112.34L466.04 113.33L466.02 114.56L466.34 115.46L466.47 116.73L466.59 118.06L466.52 118.92L466.78 120.44L466.87 121.36L466.92 122.59L467.10 123.76L467.08 124.92L467.36 125.95L467.23 126.91L467.50 128.16L467.68 129.36L467.74 130.18L467.81 131.46L468.07 132.98L468.06 134.11L468.40 135.18L468.34 136.43L468.68 137.67L468.86 139.05L469.12 139.98L469.35 141.64L469.62 142.88L469.93 143.85L470.23 144.76L470.78 146.33L471.92 147.50L472.82 148.43L474.04 148.90L474.82 149.09L515.48 149.56V150.26H449.73Z" fill="#111" stroke="#111" stroke-width="0.5"/>
<rect x="449.73" y="91.70" width="65.75" height="58.56" fill="none" stroke="#111" stroke-width="1.3"/>
<text transform="translate(448.43,148.96) rotate(-90)" font-size="3" text-anchor="middle" fill="#222" style="stroke:#222;stroke-width:.12px">0</text>
<text transform="translate(448.43,140.36) rotate(-90)" font-size="3" text-anchor="middle" fill="#222" style="stroke:#222;stroke-width:.12px">20</text>
<text transform="translate(448.43,131.76) rotate(-90)" font-size="3" text-anchor="middle" fill="#222" style="stroke:#222;stroke-width:.12px">40</text>
<text transform="translate(448.43,123.16) rotate(-90)" font-size="3" text-anchor="middle" fill="#222" style="stroke:#222;stroke-width:.12px">60</text>
<text transform="translate(448.43,114.56) rotate(-90)" font-size="3" text-anchor="middle" fill="#222" style="stroke:#222;stroke-width:.12px">80</text>
<text transform="translate(448.43,105.96) rotate(-90)" font-size="3" text-anchor="middle" fill="#222" style="stroke:#222;stroke-width:.12px">100</text>
<text transform="translate(448.43,97.36) rotate(-90)" font-size="3" text-anchor="middle" fill="#222" style="stroke:#222;stroke-width:.12px">120</text>
<text x="448.53" y="155.36" font-size="3.1" fill="#222" style="stroke:none">10<tspan dy="-1.1" font-size="2.2">0</tspan></text>
<text x="464.77" y="155.36" font-size="3.1" fill="#222" style="stroke:none">10<tspan dy="-1.1" font-size="2.2">1</tspan></text>
<text x="481.01" y="155.36" font-size="3.1" fill="#222" style="stroke:none">10<tspan dy="-1.1" font-size="2.2">2</tspan></text>
<text x="497.24" y="155.36" font-size="3.1" fill="#222" style="stroke:none">10<tspan dy="-1.1" font-size="2.2">3</tspan></text>
<text x="513.48" y="155.36" font-size="3.1" fill="#222" style="stroke:none">10<tspan dy="-1.1" font-size="2.2">4</tspan></text>
<path d="M405.66 220.89L405.57 219.80L406.12 218.94L406.95 217.43L407.69 215.91L408.00 214.88L408.37 213.85L408.80 212.78L409.09 211.55L409.30 210.35L409.50 209.15L409.78 208.20L409.98 206.62L410.12 205.74L410.39 204.26L410.42 202.97L410.73 201.72L410.93 200.55L411.05 199.51L411.13 198.22L411.37 196.92L411.51 195.86L411.76 194.55L411.78 193.48L412.08 192.13L412.36 190.67L412.50 189.44L412.66 188.16L412.94 186.95L413.24 186.15L413.65 184.35L413.91 183.28L414.24 181.95L414.60 181.95L415.04 182.23L415.30 183.54L415.81 184.96L416.11 186.48L416.20 187.38L416.39 188.51L416.60 189.69L416.72 191.31L417.08 192.60L417.17 193.80L417.36 194.97L417.45 195.95L417.65 197.20L417.76 198.01L417.91 199.51L418.01 200.54L418.15 201.51L418.40 202.52L418.53 203.93L418.68 205.22L418.94 206.24L419.09 207.61L419.23 208.68L419.39 209.81L419.58 210.62L419.86 212.37L420.10 213.83L420.36 214.94L420.73 216.11L420.55 217.52L420.46 218.65L422.21 219.66L423.02 219.93L423.81 220.04L424.93 220.01L426.04 220.27L427.38 220.14L428.77 220.22L430.18 220.33L431.65 220.44L433.10 220.74L434.49 220.58L435.72 220.78L436.90 220.71L437.83 220.90L438.80 220.78L439.49 220.72" fill="none" stroke="#555" stroke-width="0.8" stroke-dasharray="1.1 0.7"/>
<path d="M390.10 220.92L390.29 220.62L390.46 219.09L390.44 218.71L390.31 217.46L390.45 215.91L390.51 214.70L391.02 213.66L391.13 212.67L390.98 211.22L391.46 209.74L391.34 208.07L391.51 207.08L391.55 206.28L391.83 204.97L391.81 203.61L392.23 202.41L392.36 201.45L392.57 199.97L392.72 199.15L392.70 197.66L392.89 197.02L393.24 195.44L393.33 194.02L393.55 193.13L393.82 192.28L393.69 191.17L393.94 190.00L394.50 188.21L394.41 186.87L394.91 186.18L395.16 185.02L395.11 183.83L395.33 182.32L395.58 181.61L395.87 180.07L396.31 178.99L396.60 177.47L396.98 176.38L397.57 174.43L397.85 172.86L398.42 172.88L398.88 173.17L399.35 174.61L399.37 175.66L399.68 176.69L399.90 177.70L400.01 179.53L400.15 180.37L400.58 181.83L400.81 183.29L400.97 184.36L400.95 185.32L400.93 187.18L401.17 187.64L401.67 189.29L401.68 190.85L401.91 191.46L401.87 193.03L402.21 193.87L402.19 195.34L402.27 196.80L402.71 197.39L402.85 198.92L402.84 200.06L403.38 201.36L403.57 202.40L403.92 203.99L403.95 204.53L404.09 205.58L404.45 207.17L404.68 208.55L404.97 209.71L405.49 210.72L405.91 212.59L406.40 213.68L406.56 214.44L407.05 215.62L407.86 216.97L408.96 217.74L409.55 219.03L411.01 219.36L411.73 219.58L412.82 220.59L439.45 220.89" fill="none" stroke="#3a3a3a" stroke-width="0.85" stroke-linejoin="round"/>
<path d="M390.10 220.92L390.41 220.33L391.09 218.86L391.66 218.36L392.28 217.04L392.58 215.64L392.79 214.61L393.22 213.15L393.20 211.76L393.52 211.01L393.77 209.63L393.88 208.02L394.12 206.78L394.54 205.55L394.60 204.47L394.87 203.33L395.18 202.08L395.31 200.58L395.54 199.80L395.94 198.34L396.01 196.87L396.36 196.19L396.42 194.92L396.90 193.63L397.28 191.92L397.80 190.97L398.79 188.99L400.26 191.12L400.63 191.53L400.97 192.74L401.53 194.00L401.98 195.34L401.97 196.27L402.35 197.82L402.72 199.17L402.90 199.99L403.30 201.34L403.32 202.45L403.70 203.95L403.86 204.82L404.02 206.18L404.56 206.93L404.79 208.72L405.37 209.60L405.90 211.25L406.23 212.09L406.87 213.44L407.30 214.90L407.95 215.34L408.33 216.34L409.00 217.72L409.85 218.23L410.80 219.18L412.16 220.07L413.27 220.49L414.79 220.78L416.06 220.53L416.84 221.16L439.45 220.89" fill="none" stroke="#151515" stroke-width="1.3" stroke-linejoin="round"/>
<path d="M373.37 218.08L373.98 217.45L374.87 216.61L375.83 215.16L376.47 214.20L376.80 213.46L377.43 212.31L377.91 211.55L378.48 210.42L378.74 209.08L378.89 208.32L379.04 207.48L379.33 206.42L379.65 205.03L379.79 203.93L379.98 202.44L380.21 201.59L380.34 200.85L380.63 199.60L380.62 198.67L380.86 197.20L381.15 196.46L381.19 195.14L381.51 193.99L381.54 192.70L381.61 192.00L381.97 190.49L382.09 189.35L382.26 188.31L382.40 187.26L382.39 186.16L382.67 184.80L382.66 183.81L382.98 183.08L383.06 181.95L383.29 180.45L383.38 179.54L383.54 178.19L383.76 176.84L383.86 175.87L384.05 174.83L384.16 173.62L384.40 172.37L384.72 171.53L384.93 169.91L385.16 168.59L385.45 167.24L385.87 166.22L385.94 165.56L386.12 164.97L386.71 165.71L387.02 167.14L387.54 168.98L387.66 170.21L388.05 171.06L388.11 172.13L388.39 173.56L388.65 174.70L388.73 175.65L388.84 177.13L388.86 178.39L389.00 179.56L389.29 180.76L389.41 182.06L389.41 183.65L389.55 184.28L389.53 185.59L389.68 186.44L389.89 187.67L390.01 188.81L389.93 189.98L390.19 191.38L390.22 192.24L390.32 193.46L390.40 194.57L390.41 196.12L390.70 196.93L390.77 198.04L390.94 199.57L391.03 200.73L391.07 202.18L391.16 203.05L391.23 204.67L391.38 205.39L391.57 206.49L391.64 207.80L391.70 208.50L392.12 210.44L392.33 211.33L392.57 212.63L392.60 213.74L392.85 214.64L393.21 215.56L393.74 216.94L394.47 218.07L395.15 218.80L396.19 219.67L397.36 220.19L398.37 220.79L399.71 220.70L401.20 221.06L402.51 220.90L403.51 220.79L439.45 220.89V221.59H373.37Z" fill="#111" stroke="#111" stroke-width="0.5"/>
<rect x="373.37" y="164.20" width="66.09" height="57.39" fill="none" stroke="#111" stroke-width="1.3"/>
<text transform="translate(372.07,220.29) rotate(-90)" font-size="3" text-anchor="middle" fill="#222" style="stroke:#222;stroke-width:.12px">0</text>
<text transform="translate(372.07,211.69) rotate(-90)" font-size="3" text-anchor="middle" fill="#222" style="stroke:#222;stroke-width:.12px">20</text>
<text transform="translate(372.07,203.09) rotate(-90)" font-size="3" text-anchor="middle" fill="#222" style="stroke:#222;stroke-width:.12px">40</text>
<text transform="translate(372.07,194.49) rotate(-90)" font-size="3" text-anchor="middle" fill="#222" style="stroke:#222;stroke-width:.12px">60</text>
<text transform="translate(372.07,185.89) rotate(-90)" font-size="3" text-anchor="middle" fill="#222" style="stroke:#222;stroke-width:.12px">80</text>
<text transform="translate(372.07,177.29) rotate(-90)" font-size="3" text-anchor="middle" fill="#222" style="stroke:#222;stroke-width:.12px">100</text>
<text transform="translate(372.07,168.69) rotate(-90)" font-size="3" text-anchor="middle" fill="#222" style="stroke:#222;stroke-width:.12px">120</text>
<text x="372.17" y="226.69" font-size="3.1" fill="#222" style="stroke:none">10<tspan dy="-1.1" font-size="2.2">0</tspan></text>
<text x="388.49" y="226.69" font-size="3.1" fill="#222" style="stroke:none">10<tspan dy="-1.1" font-size="2.2">1</tspan></text>
<text x="404.81" y="226.69" font-size="3.1" fill="#222" style="stroke:none">10<tspan dy="-1.1" font-size="2.2">2</tspan></text>
<text x="421.13" y="226.69" font-size="3.1" fill="#222" style="stroke:none">10<tspan dy="-1.1" font-size="2.2">3</tspan></text>
<text x="437.45" y="226.69" font-size="3.1" fill="#222" style="stroke:none">10<tspan dy="-1.1" font-size="2.2">4</tspan></text>
<path d="M482.02 220.89L481.94 220.38L482.47 219.80L482.95 218.87L483.70 217.81L484.13 216.39L484.67 215.67L484.87 214.63L485.26 213.47L485.54 212.32L485.85 211.00L486.08 210.09L486.42 208.80L486.48 207.64L486.84 206.54L486.90 205.59L487.19 204.18L487.50 203.08L487.75 201.95L487.97 200.72L488.11 199.48L488.38 198.23L488.58 197.02L488.82 195.91L489.11 194.63L489.52 193.68L489.79 192.61L490.30 191.01L491.02 190.28L491.49 190.78L491.97 192.18L492.45 193.85L492.57 194.92L492.79 196.28L493.04 197.40L493.35 198.75L493.64 200.29L493.73 201.29L494.00 202.51L494.18 203.64L494.36 204.94L494.62 206.02L494.80 207.09L494.92 208.39L495.27 209.59L495.37 210.96L495.69 212.20L495.83 213.18L496.29 214.36L496.53 215.82L496.89 216.61L497.35 217.87L497.49 218.82L497.70 219.91L499.33 220.29L500.15 220.58L501.05 220.58L502.24 220.50L503.42 220.55L504.86 220.57L506.10 220.84L507.52 220.85L508.95 221.03L510.37 220.79L511.59 220.85L512.90 220.94L513.95 220.87L514.88 220.83L515.49 221.07" fill="none" stroke="#555" stroke-width="0.8" stroke-dasharray="1.1 0.7"/>
<path d="M458.10 220.92L458.27 220.28L458.32 219.84L458.14 218.71L458.41 217.79L458.28 216.98L458.23 215.69L458.70 214.58L458.70 213.20L458.55 212.46L458.63 211.59L459.00 209.72L458.71 208.97L459.09 207.27L458.85 205.45L459.22 204.70L459.21 203.02L459.21 201.69L459.36 200.56L459.45 198.99L459.45 197.98L459.86 196.28L459.87 195.47L459.71 193.83L460.06 192.72L459.82 191.60L460.21 190.86L459.91 189.85L460.21 189.19L460.11 188.78L460.61 185.78L460.67 184.05L460.76 183.20L461.08 182.44L461.53 181.50L461.48 180.87L461.77 179.69L461.96 178.70L462.06 177.98L462.54 176.53L462.48 175.65L462.84 174.75L463.18 173.17L463.57 172.04L463.73 170.87L464.05 169.07L464.25 168.49L464.95 166.58L465.42 166.62L466.11 167.58L466.97 169.51L466.87 170.49L467.25 171.42L467.58 172.06L467.53 173.77L467.69 174.30L467.76 175.96L468.03 177.41L468.05 178.06L468.50 179.42L468.70 180.66L468.86 182.18L468.99 183.10L468.93 184.31L468.97 185.20L469.23 186.55L469.30 187.45L469.69 188.90L469.59 190.14L469.75 191.74L470.05 192.76L470.17 193.70L470.10 194.93L470.47 195.98L470.27 197.76L470.42 198.31L470.62 199.84L470.81 200.79L470.91 201.99L470.99 203.35L471.18 204.23L471.66 206.01L471.59 206.83L471.63 207.46L471.99 209.32L471.96 209.84L472.57 210.92L472.75 212.44L473.12 214.11L473.49 215.15L473.59 216.33L474.30 217.11L474.69 218.22L475.89 219.37L477.04 220.01L515.48 220.89" fill="none" stroke="#3a3a3a" stroke-width="0.85" stroke-linejoin="round"/>
<path d="M449.73 219.75L450.51 218.83L451.38 218.05L452.20 216.89L452.75 215.70L453.50 214.56L454.28 213.67L454.80 212.36L455.07 210.75L455.46 210.17L456.00 208.98L456.32 207.27L456.81 206.27L457.03 204.89L457.29 203.57L457.76 202.85L457.86 201.10L458.29 200.09L458.52 198.78L458.53 197.85L458.78 196.77L459.05 195.11L459.24 193.77L459.70 192.45L459.75 191.25L459.93 190.48L460.30 189.26L460.74 187.82L461.10 186.96L461.13 185.65L461.51 184.06L461.76 182.77L461.90 182.24L462.08 180.95L462.27 179.58L462.31 178.34L462.61 177.55L463.06 176.49L463.13 175.25L463.60 173.47L463.73 172.43L463.80 171.69L464.45 169.83L464.71 168.65L465.14 167.28L465.85 165.53L466.23 166.97L466.53 168.18L467.02 169.98L467.22 170.37L467.19 171.95L467.43 173.10L467.35 174.30L467.62 175.57L467.83 176.65L467.91 177.40L468.16 179.04L468.17 179.98L468.32 180.96L468.26 182.27L468.63 183.59L468.68 184.27L468.63 185.50L468.83 187.07L468.96 187.97L469.00 188.82L469.06 190.53L469.39 191.45L469.43 192.29L469.31 193.27L469.42 194.50L469.86 195.84L469.71 196.54L469.78 197.79L469.97 199.28L470.12 200.44L470.43 201.58L470.40 203.19L470.59 204.21L470.74 205.33L470.84 206.47L471.32 207.85L471.44 209.07L471.46 210.41L471.80 211.22L472.23 213.05L472.62 214.57L473.29 215.50L473.59 216.88L474.29 217.72L474.87 218.47L476.00 219.60L477.46 220.11L478.61 220.88L480.40 221.11L481.61 221.28L515.48 220.89" fill="none" stroke="#151515" stroke-width="1.3" stroke-linejoin="round"/>
<path d="M449.73 219.75L450.35 219.26L451.34 218.05L452.16 216.70L452.81 215.81L453.48 214.83L454.27 213.57L454.79 211.97L455.24 211.11L455.67 209.82L456.04 208.66L456.46 207.32L456.84 206.21L457.06 204.90L457.39 203.74L457.73 202.75L457.88 201.41L458.06 200.29L458.46 198.60L458.55 197.89L458.99 196.61L459.14 195.23L459.41 194.38L459.68 192.80L459.81 191.74L460.20 191.14L460.57 189.42L460.75 187.91L461.05 186.89L461.41 185.87L462.18 184.44L462.75 183.60L463.34 183.86L464.03 185.24L464.11 186.69L464.46 187.59L464.78 189.19L464.92 190.62L465.03 191.73L465.27 192.64L465.34 193.69L465.60 194.97L465.83 196.67L465.91 197.79L466.15 198.96L466.36 200.16L466.53 201.27L466.66 202.72L466.71 203.83L467.08 205.26L467.15 206.42L467.42 207.71L467.46 209.08L467.81 210.18L467.98 211.26L468.09 212.46L468.50 213.50L468.85 214.96L469.00 216.39L469.40 217.20L470.06 218.83L471.16 220.08L472.47 220.65L473.84 220.79L474.94 220.95L515.48 220.89V221.59H449.73Z" fill="#111" stroke="#111" stroke-width="0.5"/>
<rect x="449.73" y="164.20" width="65.75" height="57.39" fill="none" stroke="#111" stroke-width="1.3"/>
<text transform="translate(448.43,220.29) rotate(-90)" font-size="3" text-anchor="middle" fill="#222" style="stroke:#222;stroke-width:.12px">0</text>
<text transform="translate(448.43,211.69) rotate(-90)" font-size="3" text-anchor="middle" fill="#222" style="stroke:#222;stroke-width:.12px">20</text>
<text transform="translate(448.43,203.09) rotate(-90)" font-size="3" text-anchor="middle" fill="#222" style="stroke:#222;stroke-width:.12px">40</text>
<text transform="translate(448.43,194.49) rotate(-90)" font-size="3" text-anchor="middle" fill="#222" style="stroke:#222;stroke-width:.12px">60</text>
<text transform="translate(448.43,185.89) rotate(-90)" font-size="3" text-anchor="middle" fill="#222" style="stroke:#222;stroke-width:.12px">80</text>
<text transform="translate(448.43,177.29) rotate(-90)" font-size="3" text-anchor="middle" fill="#222" style="stroke:#222;stroke-width:.12px">100</text>
<text transform="translate(448.43,168.69) rotate(-90)" font-size="3" text-anchor="middle" fill="#222" style="stroke:#222;stroke-width:.12px">120</text>
<text x="448.53" y="226.69" font-size="3.1" fill="#222" style="stroke:none">10<tspan dy="-1.1" font-size="2.2">0</tspan></text>
<text x="464.77" y="226.69" font-size="3.1" fill="#222" style="stroke:none">10<tspan dy="-1.1" font-size="2.2">1</tspan></text>
<text x="481.01" y="226.69" font-size="3.1" fill="#222" style="stroke:none">10<tspan dy="-1.1" font-size="2.2">2</tspan></text>
<text x="497.24" y="226.69" font-size="3.1" fill="#222" style="stroke:none">10<tspan dy="-1.1" font-size="2.2">3</tspan></text>
<text x="513.48" y="226.69" font-size="3.1" fill="#222" style="stroke:none">10<tspan dy="-1.1" font-size="2.2">4</tspan></text>
</svg>
</body></html>
